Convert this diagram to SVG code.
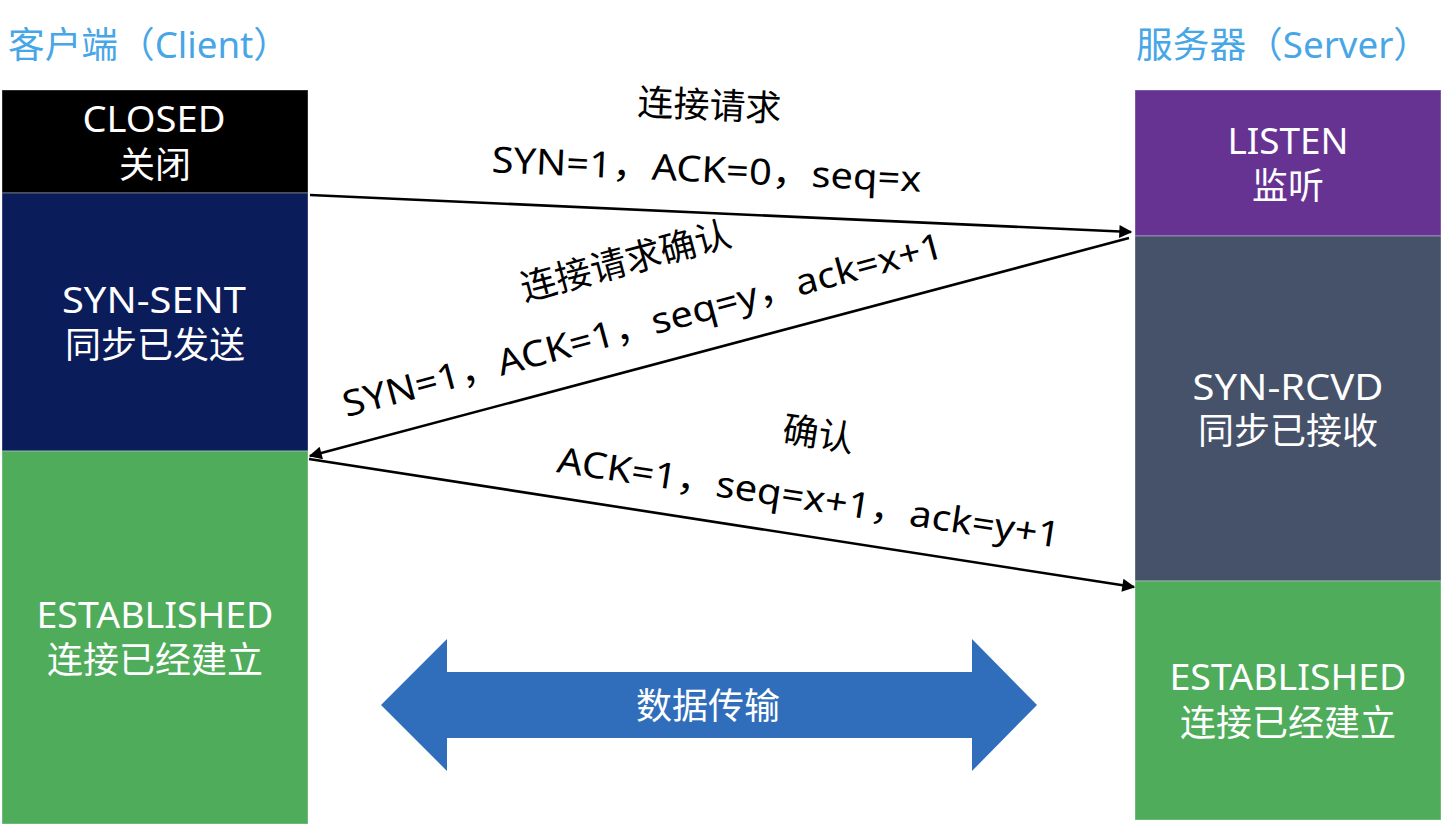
<svg xmlns="http://www.w3.org/2000/svg" width="1446" height="830" viewBox="0 0 1446 830">
<defs>
<style>
.t{font-family:"Noto Sans","Noto Sans CJK SC",sans-serif;font-size:36px}
.title{fill:#47a6e6}
.w{fill:#ffffff;text-anchor:middle}
.lbl{fill:#000000;text-anchor:middle}
.box{stroke:#ffffff;stroke-opacity:0.35;stroke-width:1}
.conn{stroke:#000000;stroke-width:2.6;fill:none;marker-end:url(#ah)}
</style>
<marker id="ah" viewBox="0 0 10 10" refX="9" refY="5" markerWidth="6" markerHeight="5" orient="auto" markerUnits="strokeWidth">
<path d="M0,0 L10,5 L0,10 Z" fill="#000000"/>
</marker>
</defs>
<rect width="1446" height="830" fill="#ffffff"/>

<g id="title-client"><text class="t title" x="8" y="58" textLength="282" lengthAdjust="spacingAndGlyphs">客户端（Client）</text></g>
<g id="title-server"><text class="t title" x="1136" y="58" textLength="294" lengthAdjust="spacingAndGlyphs">服务器（Server）</text></g>

<g id="client-closed">
<rect class="box" x="2" y="90" width="306" height="103" fill="#000000"/>
<text class="t w" x="154" y="132" textLength="143" lengthAdjust="spacingAndGlyphs">CLOSED</text>
<text class="t w" x="155" y="178">关闭</text>
</g>
<g id="client-synsent">
<rect class="box" x="2" y="193" width="306" height="258" fill="#0b1c5a"/>
<text class="t w" x="154" y="313" textLength="184" lengthAdjust="spacingAndGlyphs">SYN-SENT</text>
<text class="t w" x="155" y="358">同步已发送</text>
</g>
<g id="client-established">
<rect class="box" x="2" y="451" width="306" height="373" fill="#4fac5b"/>
<text class="t w" x="155" y="628" textLength="237" lengthAdjust="spacingAndGlyphs">ESTABLISHED</text>
<text class="t w" x="155" y="673">连接已经建立</text>
</g>

<g id="server-listen">
<rect class="box" x="1135" y="90" width="306" height="146" fill="#673393"/>
<text class="t w" x="1288" y="154" textLength="121" lengthAdjust="spacingAndGlyphs">LISTEN</text>
<text class="t w" x="1288" y="199">监听</text>
</g>
<g id="server-synrcvd">
<rect class="box" x="1135" y="236" width="306" height="345" fill="#465269"/>
<text class="t w" x="1288" y="400" textLength="191" lengthAdjust="spacingAndGlyphs">SYN-RCVD</text>
<text class="t w" x="1288" y="444">同步已接收</text>
</g>
<g id="server-established">
<rect class="box" x="1135" y="581" width="306" height="239" fill="#4fac5b"/>
<text class="t w" x="1288" y="690" textLength="237" lengthAdjust="spacingAndGlyphs">ESTABLISHED</text>
<text class="t w" x="1288" y="736">连接已经建立</text>
</g>

<g id="connectors">
<line class="conn" x1="310" y1="195" x2="1131" y2="232"/>
<line class="conn" x1="1129" y1="238" x2="310" y2="456"/>
<line class="conn" x1="309" y1="459" x2="1134" y2="587"/>
</g>

<g id="label-syn">
<g transform="translate(706,182) rotate(2.6)">
<text class="t lbl" x="0" y="-64">连接请求</text>
<text class="t lbl" x="0" y="0" textLength="430" lengthAdjust="spacingAndGlyphs">SYN=1，ACK=0，seq=x</text>
</g>
</g>
<g id="label-synack">
<g transform="translate(646,337) rotate(-15)">
<text class="t lbl" x="0" y="-66">连接请求确认</text>
<text class="t lbl" x="0" y="0" textLength="620" lengthAdjust="spacingAndGlyphs">SYN=1，ACK=1，seq=y，ack=x+1</text>
</g>
</g>
<g id="label-ack">
<g transform="translate(807,510) rotate(8.6)">
<text class="t lbl" x="0" y="-64">确认</text>
<text class="t lbl" x="0" y="0" textLength="508" lengthAdjust="spacingAndGlyphs">ACK=1，seq=x+1，ack=y+1</text>
</g>
</g>

<g id="data-transfer">
<polygon points="381,705 447,639 447,672 972,672 972,639 1037,705 972,771 972,738 447,738 447,771" fill="#306ebc"/>
<text class="t w" x="708" y="719">数据传输</text>
</g>
</svg>
